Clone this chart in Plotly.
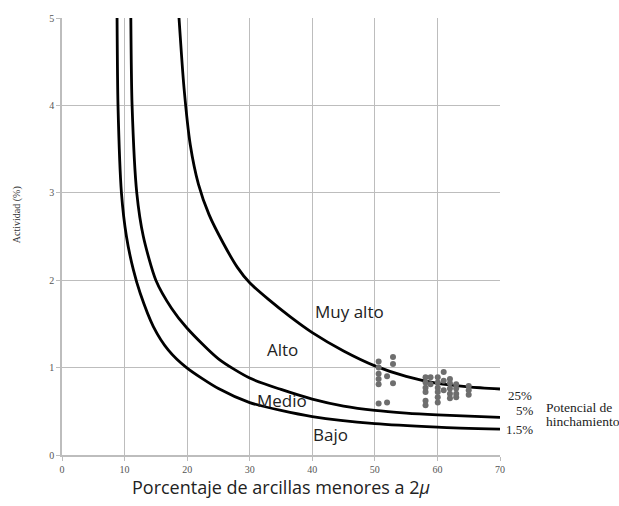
import plotly.graph_objects as go

# Curves of swelling potential
c25_x = [18.7, 19.5, 20.5, 21.8, 23.5, 25.8, 28.0, 30.0, 33.0, 36.5, 40.0, 45.0, 50.0, 55.0, 60.0, 65.0, 70.0]
c25_y = [5.0, 4.2, 3.55, 3.1, 2.75, 2.42, 2.15, 1.97, 1.78, 1.58, 1.40, 1.19, 1.02, 0.90, 0.82, 0.78, 0.755]

c5_x = [11.0, 11.2, 11.95, 13.0, 15.0, 17.5, 20.0, 25.0, 30.0, 35.0, 40.0, 45.0, 50.0, 55.0, 60.0, 70.0]
c5_y = [5.0, 4.0, 3.0, 2.5, 2.0, 1.68, 1.45, 1.10, 0.88, 0.75, 0.64, 0.56, 0.51, 0.48, 0.46, 0.43]

c15_x = [8.8, 8.95, 9.5, 10.3, 11.4, 12.5, 14.6, 17.0, 19.9, 25.0, 30.0, 35.0, 40.0, 50.0, 60.0, 70.0]
c15_y = [5.0, 4.0, 3.0, 2.5, 2.12, 1.85, 1.47, 1.2, 1.0, 0.76, 0.60, 0.51, 0.44, 0.36, 0.32, 0.295]

# Sample points
pts_x = [50.6, 50.6, 50.6, 50.6, 50.6, 50.6, 51.95, 51.95, 52.9, 52.9, 52.9,
         58.1, 58.1, 58.1, 58.1, 58.1, 58.1, 58.9, 58.9,
         60.05, 60.05, 60.05, 60.05, 60.05, 60.05, 61.0, 61.0, 61.0,
         62.0, 62.0, 62.0, 62.0, 62.0, 63.0, 63.0, 63.0, 63.0, 65.0, 65.0, 65.0]
pts_y = [1.07, 1.0, 0.93, 0.87, 0.81, 0.59, 0.90, 0.60, 1.12, 1.04, 0.82,
         0.89, 0.83, 0.77, 0.72, 0.62, 0.57, 0.89, 0.81,
         0.89, 0.83, 0.77, 0.72, 0.66, 0.60, 0.95, 0.85, 0.74,
         0.87, 0.82, 0.76, 0.70, 0.65, 0.81, 0.76, 0.70, 0.66, 0.79, 0.74, 0.69]

x_ticks = [0, 10, 20, 30, 40, 50, 60, 70]
y_ticks = [0, 1, 2, 3, 4, 5]

zone_labels = ["Muy alto", "Alto", "Medio", "Bajo"]
zone_x = [45.9, 35.3, 35.2, 42.9]
zone_y = [1.64, 1.21, 0.62, 0.23]

curve_labels = ["25%", "5%", "1.5%"]
curve_label_y = [0.68, 0.51, 0.295]
curve_label_shift = [6, 14, 4]

side_lines = ["Potencial de", "hinchamiento"]
side_py = [407, 421]

fig = go.Figure()
for cx, cy in [(c25_x, c25_y), (c5_x, c5_y), (c15_x, c15_y)]:
    fig.add_trace(go.Scatter(x=cx, y=cy, mode="lines",
                             line=dict(color="black", width=2.8, shape="spline", smoothing=0.7),
                             showlegend=False, hoverinfo="skip"))
fig.add_trace(go.Scatter(x=pts_x, y=pts_y, mode="markers",
                         marker=dict(color="#6e6e6e", size=6),
                         showlegend=False))

for t, xx, yy in zip(zone_labels, zone_x, zone_y):
    fig.add_annotation(x=xx, y=yy, text=t, showarrow=False,
                       font=dict(family="Open Sans", size=17, color="#222"))

for t, yy, sh in zip(curve_labels, curve_label_y, curve_label_shift):
    fig.add_annotation(x=70, y=yy, xref="x", yref="y", text=t, showarrow=False,
                       xanchor="left", yanchor="middle", xshift=sh,
                       font=dict(family="Liberation Serif", size=13, color="#222"))

for t, py in zip(side_lines, side_py):
    fig.add_annotation(xref="paper", yref="paper", x=1.0, y=(455 - py) / 441, text=t,
                       showarrow=False, xanchor="left", yanchor="middle", xshift=44,
                       font=dict(family="Liberation Serif", size=13.5, color="#222"))

fig.add_annotation(xref="paper", yref="paper", x=0, y=(455 - 213) / 441, text="Actividad (%)",
                   showarrow=False, textangle=-90, xshift=-53, yanchor="middle",
                   font=dict(family="Liberation Serif", size=10, color="#333"))

grid_col = "#bdbdbd"
fig.update_xaxes(range=[0, 70], tickvals=x_ticks, showgrid=True, gridcolor=grid_col, gridwidth=1,
                 showline=True, linecolor=grid_col, linewidth=1.5, zeroline=False,
                 ticks="outside", ticklen=4, tickcolor=grid_col,
                 tickfont=dict(family="Liberation Serif", size=10, color="#555"),
                 title=dict(text="Porcentaje de arcillas menores a 2<i>μ</i>",
                            font=dict(family="Open Sans", size=18, color="#222"), standoff=6))
fig.update_yaxes(range=[0, 5], tickvals=y_ticks, showgrid=True, gridcolor=grid_col, gridwidth=1,
                 showline=True, linecolor=grid_col, linewidth=1.5, zeroline=False,
                 ticks="outside", ticklen=4, tickcolor=grid_col,
                 tickfont=dict(family="Liberation Serif", size=10, color="#555"))

fig.update_layout(width=619, height=506, margin=dict(l=62, r=119, t=14, b=51),
                  plot_bgcolor="white", paper_bgcolor="white")

fig.write_html("out.html")
